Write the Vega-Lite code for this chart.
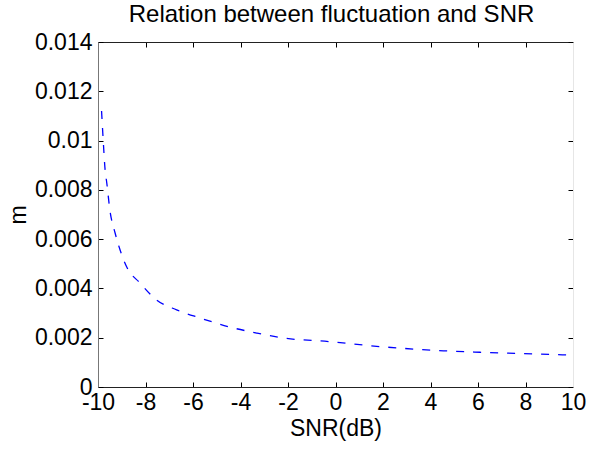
{
  "$schema": "https://vega.github.io/schema/vega-lite/v6.json",
  "width": 475,
  "height": 345,
  "autosize": "none",
  "padding": {"left": 98, "top": 42, "right": 17, "bottom": 62},
  "background": "white",
  "title": {"text": "Relation between fluctuation and SNR", "font": "Liberation Sans", "fontSize": 24, "fontWeight": "normal", "color": "black", "offset": 4, "anchor": "middle", "dx": -4},
  "config": {"view": {"stroke": null}, "font": "Liberation Sans"},
  "data": {"values": [
    {"snr": -9.85, "m": 0.0112},
    {"snr": -9.78, "m": 0.0100},
    {"snr": -9.7, "m": 0.0088},
    {"snr": -9.63, "m": 0.00828},
    {"snr": -9.5, "m": 0.00718},
    {"snr": -9.28, "m": 0.00625},
    {"snr": -9.07, "m": 0.00556},
    {"snr": -8.79, "m": 0.00487},
    {"snr": -8.23, "m": 0.00422},
    {"snr": -7.53, "m": 0.00353},
    {"snr": -6.69, "m": 0.00313},
    {"snr": -5.7, "m": 0.0028},
    {"snr": -4.44, "m": 0.00243},
    {"snr": -3.32, "m": 0.00219},
    {"snr": -2.2, "m": 0.00199},
    {"snr": -0.23, "m": 0.00184},
    {"snr": 1.87, "m": 0.00164},
    {"snr": 3.28, "m": 0.00154},
    {"snr": 4.54, "m": 0.00147},
    {"snr": 6.08, "m": 0.00141},
    {"snr": 8.48, "m": 0.00134},
    {"snr": 10.0, "m": 0.00129}
  ]},
  "layer": [
    {
      "mark": {"type": "line", "color": "#0000ff", "strokeWidth": 1.3, "strokeDash": [8, 9], "interpolate": "monotone"},
      "encoding": {
        "x": {"field": "snr", "type": "quantitative", "scale": {"domain": [-10, 10], "nice": false, "zero": false},
          "axis": {"orient": "bottom", "title": "SNR(dB)", "values": [-10, -8, -6, -4, -2, 0, 2, 4, 6, 8, 10], "labelExpr": "'' + datum.value", "grid": false, "tickSize": -5, "tickColor": "black", "domainColor": "#222", "labelFont": "Liberation Sans", "labelFontSize": 23, "labelColor": "black", "labelPadding": 9, "titleFont": "Liberation Sans", "titleFontSize": 23, "titleFontWeight": "normal", "titleColor": "black", "titlePadding": 3, "labelFlush": false}},
        "y": {"field": "m", "type": "quantitative", "scale": {"domain": [0, 0.014], "nice": false},
          "axis": {"orient": "left", "title": "m", "values": [0, 0.002, 0.004, 0.006, 0.008, 0.01, 0.012, 0.014], "format": "~g", "grid": false, "tickSize": -5, "tickColor": "black", "domainColor": "#777", "labelFont": "Liberation Sans", "labelFontSize": 23, "labelColor": "black", "labelPadding": 11, "titleFont": "Liberation Sans", "titleFontSize": 23, "titleFontWeight": "normal", "titleColor": "black", "titlePadding": 4, "labelFlush": false}}
      }
    },
    {
      "mark": {"type": "line", "opacity": 0},
      "encoding": {
        "x": {"field": "snr", "type": "quantitative", "scale": {"domain": [-10, 10], "nice": false, "zero": false},
          "axis": {"orient": "top", "title": null, "labels": false, "values": [-10, -8, -6, -4, -2, 0, 2, 4, 6, 8, 10], "grid": false, "tickSize": -5, "tickColor": "black", "domainColor": "#222"}},
        "y": {"field": "m", "type": "quantitative", "scale": {"domain": [0, 0.014], "nice": false},
          "axis": {"orient": "right", "title": null, "labels": false, "values": [0, 0.002, 0.004, 0.006, 0.008, 0.01, 0.012, 0.014], "grid": false, "tickSize": -5, "tickColor": "black", "domainColor": "#e6e6e6"}}
      }
    }
  ],
  "resolve": {"axis": {"x": "independent", "y": "independent"}}
}
